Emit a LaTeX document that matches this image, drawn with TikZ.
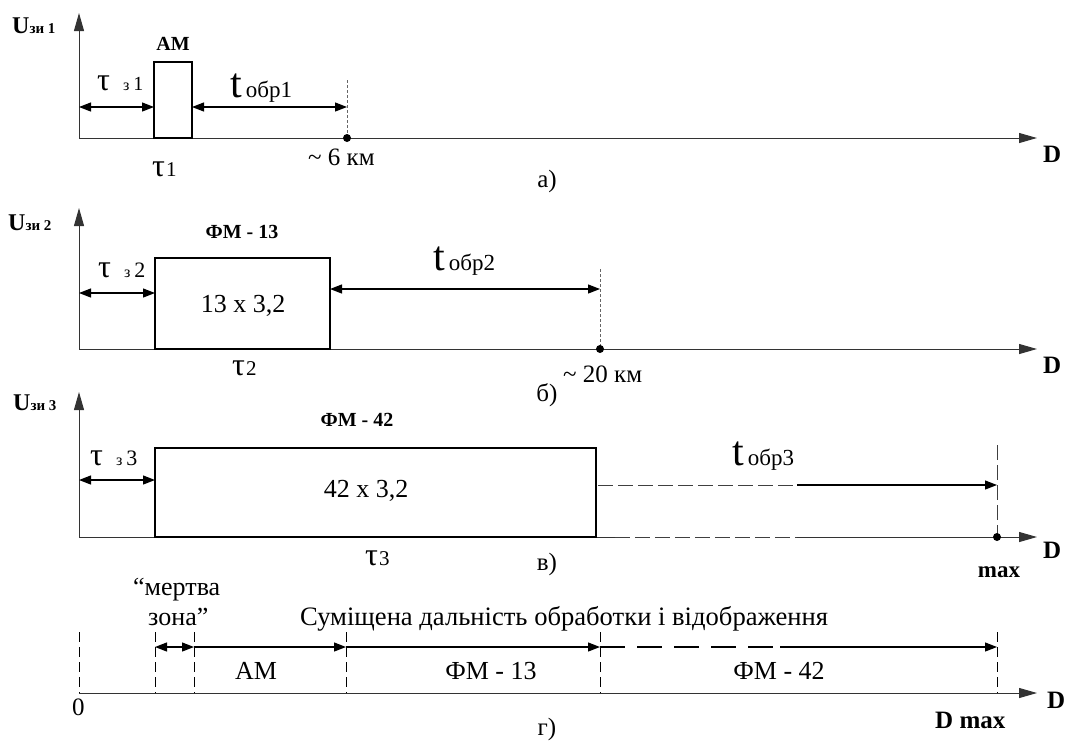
\documentclass[tikz,border=0pt]{standalone}
\usepackage{fontspec}
\setmainfont{Liberation Serif}
\usetikzlibrary{arrows.meta}
\newcommand\fsz[1]{\fontsize{#1}{#1}\selectfont}
\begin{document}
\begin{tikzpicture}[x=1pt,y=-1pt,
  axis/.style={line width=1pt,black!80,-{Triangle[length=18pt,width=10pt]}},
  axline/.style={line width=1pt,black!80},
  box/.style={line width=1.3pt},
  dim/.style={line width=1.2pt,{Triangle[length=12pt,width=9pt]}-{Triangle[length=12pt,width=9pt]}},
  fwd/.style={line width=1.2pt,-{Triangle[length=12pt,width=9pt]}},
  fdash/.style={black!60,line width=1pt,dash pattern=on 3pt off 2pt},
  mdash/.style={black!75,line width=1pt,dash pattern=on 15pt off 5pt},
  ddash/.style={line width=1pt,dash pattern=on 10pt off 5pt},
  ldash/.style={line width=1.2pt,dash pattern=on 25pt off 12pt},
  dot/.style={circle,fill,inner sep=0pt,minimum size=8pt},
  lbl/.style={inner sep=0pt,anchor=base west},
  lblc/.style={inner sep=0pt,anchor=base}]
\useasboundingbox (0,0) rectangle (1069,740);
% ---------- panel a ----------
\coordinate (a0) at (79,138);
\coordinate (atop) at (79,13);
\coordinate (aend) at (1037,138);
\draw[axis] (a0) -- (atop);
\draw[axis] (a0) -- (aend);
\coordinate (ar1) at (154,62); \coordinate (ar2) at (192,138);
\draw[box] (ar1) rectangle (ar2);
\coordinate (ad0) at (79,107); \coordinate (ad1) at (154,107);
\coordinate (ad2) at (192,107); \coordinate (ad3) at (347,107);
\draw[dim] (ad0) -- (ad1);
\draw[dim] (ad2) -- (ad3);
\coordinate (av) at (347,80); \coordinate (ap) at (347,138);
\draw[fdash] (av) -- (ap);
\node[dot] (adot) at (ap) {};
\node[lbl] (ua) at (12,33) {\fsz{24}\bfseries U\fsz{15}зи 1};
\node[lblc] (ama) at (173,50) {\fsz{20}\bfseries АМ};
\node[lbl] (tza) at (97,90) {\fsz{32}τ\hspace{13pt}\fsz{16}з \fsz{20}1};
\node[lbl] (toa) at (230,97) {\fsz{42}t\hspace{4pt}\fsz{23}обр1};
\node[lbl] (tau1) at (152,176) {\fsz{32}τ\hspace{1pt}\fsz{21}1};
\node[lbl] (kma) at (308,165) {\fsz{25}\textasciitilde\ 6 км};
\node[lblc] (pa) at (547,187) {\fsz{25}а)};
\node[lbl] (da) at (1043,162) {\fsz{25}\bfseries D};
% ---------- panel b ----------
\coordinate (b0) at (79,349);
\coordinate (btop) at (79,208);
\coordinate (bend) at (1037,349);
\draw[axis] (b0) -- (btop);
\draw[axis] (b0) -- (bend);
\coordinate (br1) at (155,258); \coordinate (br2) at (330,349);
\draw[box] (br1) rectangle (br2);
\coordinate (bd0) at (79,293); \coordinate (bd1) at (155,293);
\coordinate (bd2) at (330,289); \coordinate (bd3) at (600,289);
\draw[dim] (bd0) -- (bd1);
\draw[dim] (bd2) -- (bd3);
\coordinate (bv) at (600,269); \coordinate (bp) at (600,349);
\draw[fdash] (bv) -- (bp);
\node[dot] (bdot) at (bp) {};
\node[lbl] (ub) at (8,230) {\fsz{24}\bfseries U\fsz{15}зи 2};
\node[lblc] (fmb) at (242,238) {\fsz{20}\bfseries ФМ - 13};
\node[lblc] (cb) at (243,312) {\fsz{26}13 x 3,2};
\node[lbl] (tzb) at (98,277) {\fsz{32}τ\hspace{13pt}\fsz{16}з \fsz{22}2};
\node[lbl] (tob) at (433,270) {\fsz{42}t\hspace{4pt}\fsz{23}обр2};
\node[lbl] (tau2) at (232,375) {\fsz{32}τ\hspace{1pt}\fsz{21}2};
\node[lbl] (kmb) at (563,382) {\fsz{25}\textasciitilde\ 20 км};
\node[lblc] (pb) at (547,401) {\fsz{25}б)};
\node[lbl] (db) at (1043,373) {\fsz{25}\bfseries D};
% ---------- panel c ----------
\coordinate (c0) at (79,537);
\coordinate (ctop) at (79,392);
\coordinate (cm1) at (615,537);
\coordinate (cm2) at (797,537);
\coordinate (cend) at (1037,537);
\draw[axis] (c0) -- (ctop);
\draw[axline] (c0) -- (cm1);
\draw[mdash] (cm1) -- (cm2);
\draw[axis] (cm2) -- (cend);
\coordinate (cr1) at (155,448); \coordinate (cr2) at (596,537);
\draw[box] (cr1) rectangle (cr2);
\coordinate (cd0) at (79,480); \coordinate (cd1) at (155,480);
\draw[dim] (cd0) -- (cd1);
\coordinate (ct0) at (598,485); \coordinate (ct1) at (797,485); \coordinate (ct2) at (997,485);
\draw[mdash] (ct0) -- (ct1);
\draw[fwd] (ct1) -- (ct2);
\coordinate (cv) at (997,445); \coordinate (cp) at (997,537);
\draw[mdash] (cv) -- (cp);
\node[dot] (cdot) at (cp) {};
\node[lbl] (uc) at (13,410) {\fsz{24}\bfseries U\fsz{15}зи 3};
\node[lblc] (fmc) at (357,426) {\fsz{20}\bfseries ФМ - 42};
\node[lblc] (cc) at (366,497) {\fsz{26}42 x 3,2};
\node[lbl] (tzc) at (90,465) {\fsz{32}τ\hspace{13pt}\fsz{16}з \fsz{22}3};
\node[lbl] (toc) at (732,465) {\fsz{42}t\hspace{4pt}\fsz{23}обр3};
\node[lbl] (tau3) at (365,565) {\fsz{32}τ\hspace{1pt}\fsz{21}3};
\node[lblc] (pc) at (547,570) {\fsz{25}в)};
\node[lblc] (maxc) at (999,577) {\fsz{23}\bfseries max};
\node[lbl] (dc) at (1043,558) {\fsz{25}\bfseries D};
% ---------- panel d ----------
\coordinate (d0) at (79,693);
\coordinate (dend) at (1037,693);
\draw[axis] (d0) -- (dend);
\foreach \n/\x in {v0/79,v1/155,v2/194,v3/346,v4/600,v5/997}{
  \coordinate (\n t) at (\x,632);
  \coordinate (\n b) at (\x,693);
  \coordinate (\n m) at (\x,647);
  \draw[ddash] (\n t) -- (\n b);
}
\draw[dim] (v1m) -- (v2m);
\draw[fwd] (v2m) -- (v3m);
\draw[fwd] (v3m) -- (v4m);
\coordinate (dl) at (780,647);
\draw[ldash] (v4m) -- (dl);
\draw[fwd] (dl) -- (v5m);
\node[lbl] (mz1) at (133,595) {\fsz{26}“мертва};
\node[lbl] (mz2) at (148,625) {\fsz{26}зона”};
\node[lbl] (sum) at (300,625) {\fsz{26.6}Суміщена дальність обработки і відображення};
\node[lblc] (amd) at (256,679) {\fsz{26}АМ};
\node[lblc] (fm13) at (491,679) {\fsz{26}ФМ - 13};
\node[lblc] (fm42) at (779,679) {\fsz{26}ФМ - 42};
\node[lbl] (zero) at (72,715) {\fsz{25}0};
\node[lbl] (dmax) at (935,728) {\fsz{25}\bfseries D max};
\node[lbl] (dd) at (1047,708) {\fsz{25}\bfseries D};
\node[lblc] (pd) at (547,735) {\fsz{25}г)};
\end{tikzpicture}
\end{document}
